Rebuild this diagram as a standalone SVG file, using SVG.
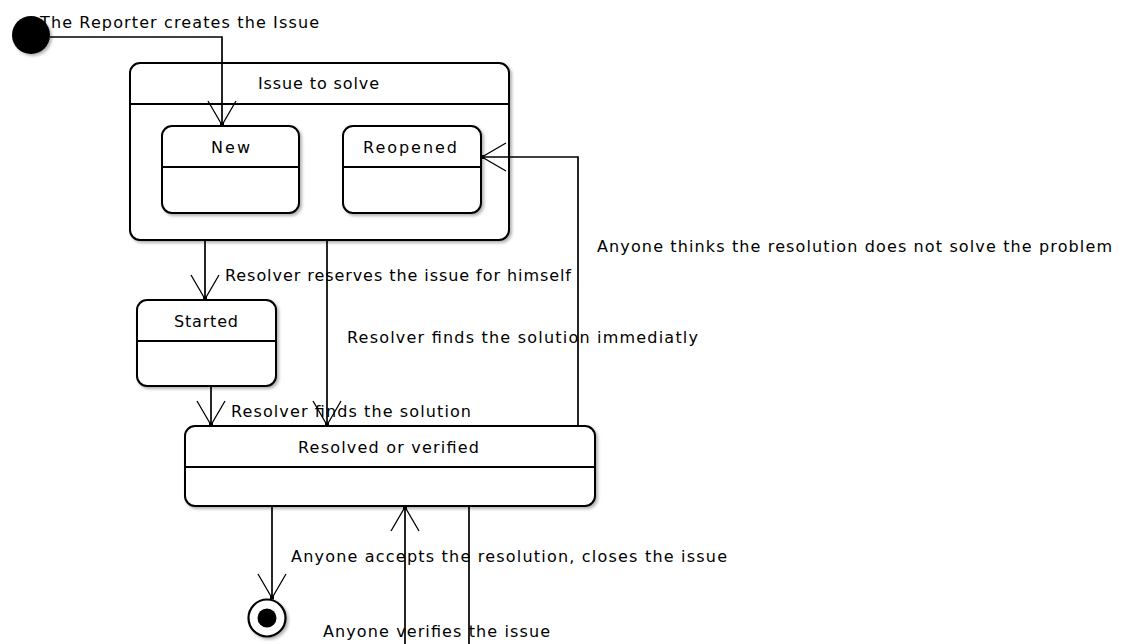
<svg xmlns="http://www.w3.org/2000/svg" width="1124" height="644" viewBox="0 0 1124 644">
<defs>
<style>
.box{fill:#fff;stroke:#000;stroke-width:2;filter:url(#sh)}
.div{stroke:#000;stroke-width:1.8;fill:none}
.t{font-family:"DejaVu Sans","Verdana",sans-serif;font-size:16px;fill:#000}
.conn path{fill:none;stroke:#000;stroke-width:1.7}
.arr{marker-end:url(#open)}
</style>
<filter id="sh" x="-10%" y="-10%" width="130%" height="130%">
<feDropShadow dx="2" dy="2" stdDeviation="1.5" flood-color="#000" flood-opacity="0.3"/>
</filter>
<marker id="open" markerUnits="userSpaceOnUse" viewBox="-26 -16 30 32" refX="0" refY="0" markerWidth="30" markerHeight="32" orient="auto">
<path d="M-24,-14 L0,0 L-24,14" fill="none" stroke="#000" stroke-width="1.3"/>
<rect x="-2.5" y="-2" width="4" height="4" fill="#000"/>
</marker>
</defs>
<rect width="1124" height="644" fill="#fff"/>

<g id="issue-to-solve">
<rect class="box" x="130" y="63" width="379" height="177" rx="10"/>
<line class="div" x1="130" y1="104" x2="509" y2="104"/>
<text class="t" x="258" y="89" textLength="121" lengthAdjust="spacing">Issue to solve</text>
</g>

<g id="new">
<rect class="box" x="162" y="126" width="137" height="87" rx="10"/>
<line class="div" x1="162" y1="167" x2="299" y2="167"/>
<text class="t" x="211" y="153" textLength="39" lengthAdjust="spacing">New</text>
</g>

<g id="reopened">
<rect class="box" x="343" y="126" width="138" height="87" rx="10"/>
<line class="div" x1="343" y1="167" x2="481" y2="167"/>
<text class="t" x="363" y="153" textLength="94" lengthAdjust="spacing">Reopened</text>
</g>

<g id="started">
<rect class="box" x="137" y="300" width="139" height="86" rx="10"/>
<line class="div" x1="137" y1="341" x2="276" y2="341"/>
<text class="t" x="174" y="327" textLength="64" lengthAdjust="spacing">Started</text>
</g>

<g id="resolved">
<rect class="box" x="185" y="426" width="410" height="80" rx="10"/>
<line class="div" x1="185" y1="467" x2="595" y2="467"/>
<text class="t" x="298" y="453" textLength="181" lengthAdjust="spacing">Resolved or verified</text>
</g>

<g id="initial">
<circle cx="31" cy="35" r="19" fill="#000" filter="url(#sh)"/>
</g>

<g id="final">
<circle cx="267" cy="618" r="18.5" fill="#fff" stroke="#000" stroke-width="2.2" filter="url(#sh)"/>
<circle cx="267" cy="618" r="9.5" fill="#000"/>
</g>

<g id="connectors" class="conn">
<path class="arr" d="M50,37 H222 V125"/>
<path class="arr" d="M205,240 V299"/>
<path class="arr" d="M327,240 V425"/>
<path class="arr" d="M211,386 V425"/>
<path class="arr" d="M578,426 V157 H482"/>
<path class="arr" d="M272,506 V598"/>
<path class="arr" d="M469,506 V660 H405 V507"/>
</g>

<g id="labels">
<text class="t" x="40" y="28" textLength="279" lengthAdjust="spacing">The Reporter creates the Issue</text>
<text class="t" x="225" y="281" textLength="346" lengthAdjust="spacing">Resolver reserves the issue for himself</text>
<text class="t" x="347" y="343" textLength="351" lengthAdjust="spacing">Resolver finds the solution immediatly</text>
<text class="t" x="231" y="417" textLength="240" lengthAdjust="spacing">Resolver finds the solution</text>
<text class="t" x="597" y="252" textLength="515" lengthAdjust="spacing">Anyone thinks the resolution does not solve the problem</text>
<text class="t" x="291" y="562" textLength="436" lengthAdjust="spacing">Anyone accepts the resolution, closes the issue</text>
<text class="t" x="323" y="637" textLength="227" lengthAdjust="spacing">Anyone verifies the issue</text>
</g>
</svg>
